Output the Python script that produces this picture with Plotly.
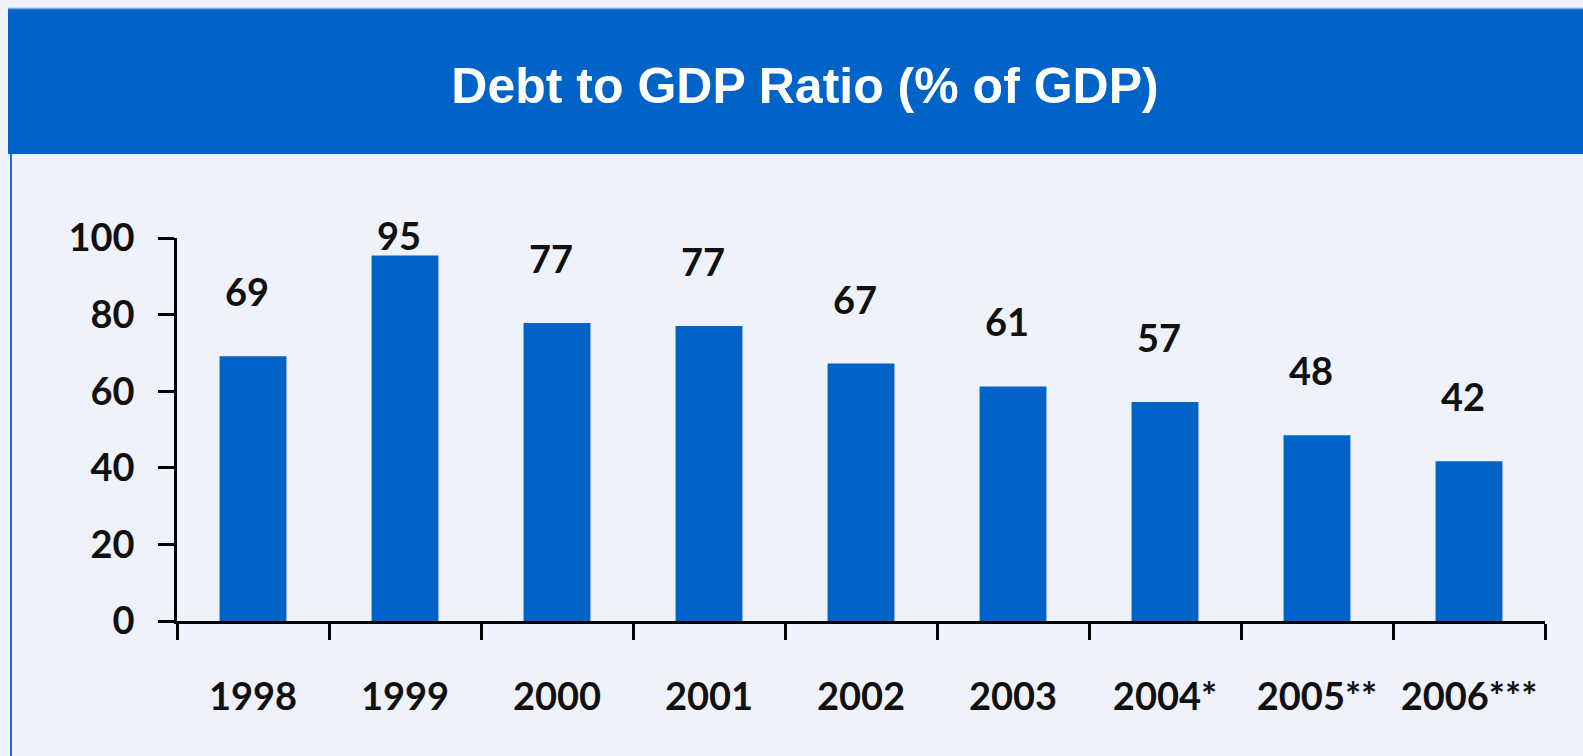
import plotly.graph_objects as go

categories = ["1998", "1999", "2000", "2001", "2002", "2003", "2004*", "2005**", "2006***"]
bar_values = [69.1, 95.4, 77.8, 77.0, 67.2, 61.2, 57.2, 48.5, 41.7]
label_texts = ["69", "95", "77", "77", "67", "61", "57", "48", "42"]
y_ticks = [0, 20, 40, 60, 80, 100]

W, H = 1583, 756
L, R, T, B = 177, 38, 238, 135
PW, PH = W - L - R, H - T - B
BLUE = "#0063C8"
BG = "#EFF2FA"
FONT = "Lato"
FS = 38

def px_x(p):
    return (p - L) / PW

def px_y(p):
    return (H - B - p) / PH

fig = go.Figure()
fig.add_trace(go.Bar(x=categories, y=bar_values, marker=dict(color=BLUE, line=dict(width=0)),
                     width=0.44, hoverinfo="skip"))

label_offset = 17.0
ymax = 100.0
for i, (v, t) in enumerate(zip(bar_values, label_texts)):
    y = min(v + label_offset, ymax)
    fig.add_annotation(x=i, y=y, text=t, showarrow=False,
                       xref="x", yref="y",
                       yanchor="middle", xanchor="center", xshift=-6,
                       yshift=3 if y >= ymax else 0,
                       font=dict(family=FONT, size=FS, color="#111111", weight=700))

shapes = [
    dict(type="rect", xref="paper", yref="paper", x0=px_x(8), x1=px_x(W + 5), y0=px_y(154), y1=px_y(8),
         fillcolor=BLUE, line=dict(width=0), layer="below"),
    dict(type="line", xref="paper", yref="paper", x0=px_x(8), x1=px_x(W + 5), y0=px_y(8.5), y1=px_y(8.5),
         line=dict(color="#7FAAE0", width=1.5)),
    dict(type="line", xref="paper", yref="paper", x0=px_x(11), x1=px_x(11), y0=px_y(154), y1=px_y(H + 5),
         line=dict(color="#1A6FD0", width=2)),
]

fig.update_layout(
    width=W, height=H, autosize=False,
    margin=dict(l=L, r=R, t=T, b=B, pad=0),
    paper_bgcolor=BG, plot_bgcolor=BG,
    showlegend=False,
    shapes=shapes,
    title=dict(text="Debt to GDP Ratio (% of GDP)", x=px_x(805), xanchor="center", xref="paper",
               y=1 - 85 / H, yref="container", yanchor="middle",
               font=dict(family="Liberation Sans, Arial", size=50, color="white", weight=700)),
    xaxis=dict(type="category", categoryorder="array", categoryarray=categories,
               range=[-0.5, len(categories) - 0.5], autorange=False,
               showgrid=False, zeroline=False, showline=True, linecolor="black",
               linewidth=2.5, ticks="outside", ticklen=16, tickwidth=2.5, tickcolor="black",
               tickson="boundaries", ticklabelstandoff=41, fixedrange=True, automargin=False,
               tickangle=0,
               tickfont=dict(family=FONT, size=FS, color="#111111", weight=700)),
    yaxis=dict(range=[0, 100], autorange=False, showgrid=False, zeroline=False, showline=True,
               linecolor="black",
               linewidth=2.5, ticks="outside", ticklen=16, tickwidth=2.5, tickcolor="black",
               tickvals=y_ticks, ticktext=[str(v) for v in y_ticks], ticklabelstandoff=16,
               fixedrange=True, automargin=False,
               tickfont=dict(family=FONT, size=FS, color="#111111", weight=700)),
)

fig.write_html("out.html", config={"displayModeBar": False})
